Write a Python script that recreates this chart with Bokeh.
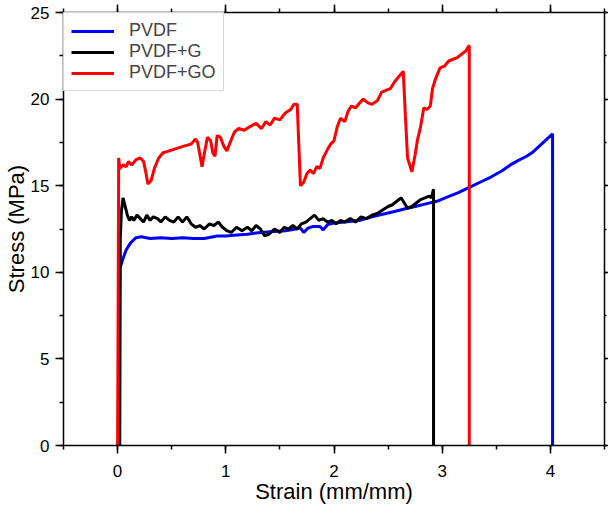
from bokeh.plotting import figure
from bokeh.models import LinearAxis, SingleIntervalTicker, Range1d
from bokeh.embed import file_html
from bokeh.resources import INLINE

# PVDF (blue)
pvdf_x = [0.01, 0.02, 0.05, 0.08, 0.12, 0.17, 0.22, 0.30, 0.40, 0.50, 0.60, 0.70, 0.80, 0.92, 1.00,
          1.10, 1.20, 1.32, 1.45, 1.55, 1.65, 1.69, 1.72, 1.76, 1.81, 1.87, 1.90, 1.94, 2.00, 2.10,
          2.24, 2.35, 2.45, 2.55, 2.65, 2.75, 2.85, 2.95, 3.05, 3.15, 3.25, 3.35, 3.45, 3.55, 3.63,
          3.70, 3.78, 3.84, 3.90, 3.96, 4.02, 4.02]
pvdf_y = [0.0, 10.2, 10.8, 11.3, 11.7, 12.0, 12.05, 11.95, 12.0, 11.95, 12.0, 11.95, 11.95, 12.1, 12.1,
          12.15, 12.2, 12.3, 12.35, 12.4, 12.5, 12.55, 12.3, 12.55, 12.65, 12.65, 12.45, 12.75, 12.85, 12.9,
          13.0, 13.2, 13.35, 13.5, 13.65, 13.8, 13.95, 14.1, 14.35, 14.6, 14.9, 15.2, 15.5, 15.85, 16.2,
          16.45, 16.7, 16.95, 17.3, 17.65, 18.0, 0.0]

# PVDF+G (black)
g_x = [0.02, 0.025, 0.035, 0.05, 0.07, 0.09, 0.11, 0.13, 0.15, 0.18, 0.21, 0.24, 0.27, 0.30, 0.33,
       0.37, 0.40, 0.44, 0.48, 0.52, 0.56, 0.60, 0.64, 0.68, 0.72, 0.76, 0.80, 0.85, 0.89, 0.93,
       0.97, 1.01, 1.05, 1.10, 1.15, 1.20, 1.24, 1.28, 1.32, 1.36, 1.40, 1.45, 1.50, 1.54, 1.58,
       1.62, 1.66, 1.70, 1.74, 1.78, 1.82, 1.86, 1.90, 1.94, 1.98, 2.02, 2.06, 2.10, 2.15, 2.20,
       2.25, 2.30, 2.35, 2.40, 2.45, 2.50, 2.54, 2.58, 2.62, 2.65, 2.68, 2.72, 2.76, 2.80, 2.84,
       2.88, 2.90, 2.92, 2.92]
g_y = [0.0, 12.0, 13.5, 14.3, 13.8, 13.3, 13.0, 13.2, 13.0, 13.3, 13.1, 12.9, 13.3, 13.0, 13.2,
       13.1, 12.9, 13.2, 13.0, 12.9, 13.2, 12.9, 13.2, 12.8, 12.6, 12.7, 12.5, 12.8, 12.7, 12.9,
       12.6, 12.4, 12.3, 12.6, 12.4, 12.6, 12.4, 12.7, 12.5, 12.1, 12.2, 12.5, 12.3, 12.6, 12.5,
       12.7, 12.5, 12.8, 12.9, 13.1, 13.3, 13.0, 13.1, 12.9, 13.0, 12.8, 13.0, 12.9, 13.1, 12.9,
       13.2, 13.1, 13.3, 13.4, 13.6, 13.8, 13.9, 14.1, 14.3, 14.0, 13.7, 13.8, 14.0, 14.2, 14.3,
       14.4, 14.3, 14.8, 0.0]

# PVDF+GO (red)
go_x = [0.00, 0.01, 0.02, 0.05, 0.08, 0.10, 0.13, 0.17, 0.21, 0.24, 0.26, 0.28, 0.31, 0.34, 0.38,
        0.42, 0.47, 0.52, 0.57, 0.62, 0.68, 0.72, 0.74, 0.76, 0.78, 0.80, 0.83, 0.86, 0.88, 0.90,
        0.92, 0.95, 0.98, 1.01, 1.04, 1.08, 1.12, 1.17, 1.22, 1.28, 1.33, 1.37, 1.41, 1.45, 1.50,
        1.55, 1.60, 1.63, 1.66, 1.69, 1.72, 1.75, 1.78, 1.81, 1.84, 1.87, 1.90, 1.94, 1.97, 2.00,
        2.03, 2.06, 2.10, 2.13, 2.16, 2.20, 2.24, 2.27, 2.31, 2.35, 2.40, 2.44, 2.48, 2.52, 2.56,
        2.60, 2.64, 2.66, 2.68, 2.72, 2.75, 2.77, 2.80, 2.83, 2.86, 2.89, 2.91, 2.94, 2.98, 3.02,
        3.06, 3.10, 3.14, 3.18, 3.22, 3.25, 3.25]
go_y = [0.0, 16.6, 16.0, 16.2, 16.1, 16.4, 16.2, 16.5, 16.6, 16.4, 15.8, 15.1, 15.3, 16.0, 16.6,
        16.9, 17.0, 17.1, 17.2, 17.3, 17.4, 17.7, 17.5, 16.8, 16.1, 16.8, 17.8, 17.6, 16.9, 16.7,
        17.9, 17.8, 17.3, 17.0, 17.5, 18.1, 18.3, 18.2, 18.4, 18.6, 18.3, 18.7, 18.5, 18.9, 18.8,
        19.2, 19.4, 19.7, 19.7, 15.0, 15.2, 15.7, 15.9, 15.7, 16.1, 16.0, 16.6, 17.1, 17.4, 17.6,
        18.4, 18.9, 18.7, 19.3, 19.6, 19.5, 19.8, 20.0, 19.8, 19.7, 19.9, 20.4, 20.5, 20.6, 21.0,
        21.3, 21.6, 19.0, 16.6, 15.8, 16.8, 17.6, 18.4, 19.5, 19.4, 19.6, 20.6, 21.2, 21.8, 21.9,
        22.2, 22.3, 22.4, 22.6, 22.8, 23.1, 0.0]

series_names = ["PVDF", "PVDF+G", "PVDF+GO"]
x_ticks_interval = 1
y_ticks_interval = 5

FONT = "Liberation Sans"

p = figure(width=608, height=506, x_range=Range1d(-0.5, 4.5), y_range=Range1d(0, 25),
           output_backend="svg", toolbar_location=None,
           min_border_left=0, min_border_right=0, min_border_top=12, min_border_bottom=0,
           x_axis_label="Strain (mm/mm)", y_axis_label="Stress (MPa)")
p.outline_line_color = None
p.xgrid.visible = False
p.ygrid.visible = False
p.background_fill_color = "white"
p.border_fill_color = "white"

p.xaxis.ticker = SingleIntervalTicker(interval=x_ticks_interval, num_minor_ticks=2)
p.yaxis.ticker = SingleIntervalTicker(interval=y_ticks_interval, num_minor_ticks=2)

for ax in (p.xaxis[0], p.yaxis[0]):
    ax.axis_line_width = 1.5
    ax.major_tick_line_width = 1.5
    ax.minor_tick_line_width = 1.5
    ax.major_tick_out = 8
    ax.major_tick_in = 0
    ax.minor_tick_out = 4
    ax.minor_tick_in = 0
    ax.major_label_text_font = FONT
    ax.major_label_text_font_size = "17px"
    ax.major_label_text_color = "black"
    ax.axis_label_text_font = FONT
    ax.axis_label_text_font_size = "22px"
    ax.axis_label_text_font_style = "normal"
    ax.axis_label_text_color = "black"
p.xaxis.major_label_standoff = 11
p.xaxis.axis_label_standoff = -1
p.yaxis.major_label_standoff = 6
p.yaxis.axis_label_standoff = -1

top = LinearAxis(ticker=SingleIntervalTicker(interval=x_ticks_interval, num_minor_ticks=2))
right = LinearAxis(ticker=SingleIntervalTicker(interval=y_ticks_interval, num_minor_ticks=2))
for ax, tout in ((top, 8), (right, 4)):
    ax.axis_line_width = 1.5
    ax.major_tick_line_width = 1.5
    ax.minor_tick_line_width = 1.5
    ax.major_tick_out = tout
    ax.major_tick_in = 0
    ax.minor_tick_out = tout // 2
    ax.minor_tick_in = 0
    ax.major_label_text_font_size = "0px"
    ax.major_label_text_color = None
    ax.major_label_standoff = 0
p.add_layout(top, "above")
p.add_layout(right, "right")

p.line(pvdf_x, pvdf_y, color="#0000ff", line_width=3, legend_label=series_names[0])
p.line(g_x, g_y, color="#000000", line_width=3, legend_label=series_names[1])
p.line(go_x, go_y, color="#ff0000", line_width=3, legend_label=series_names[2])

lg = p.legend[0]
lg.location = "top_left"
lg.margin = 0
lg.padding = 7
lg.spacing = 0
lg.border_line_color = "#b4b4b4"
lg.border_line_width = 1
lg.background_fill_color = "white"
lg.label_text_font = FONT
lg.label_text_font_size = "18px"
lg.glyph_width = 43
lg.label_standoff = 15

open("out.html", "w").write(file_html(p, INLINE))
